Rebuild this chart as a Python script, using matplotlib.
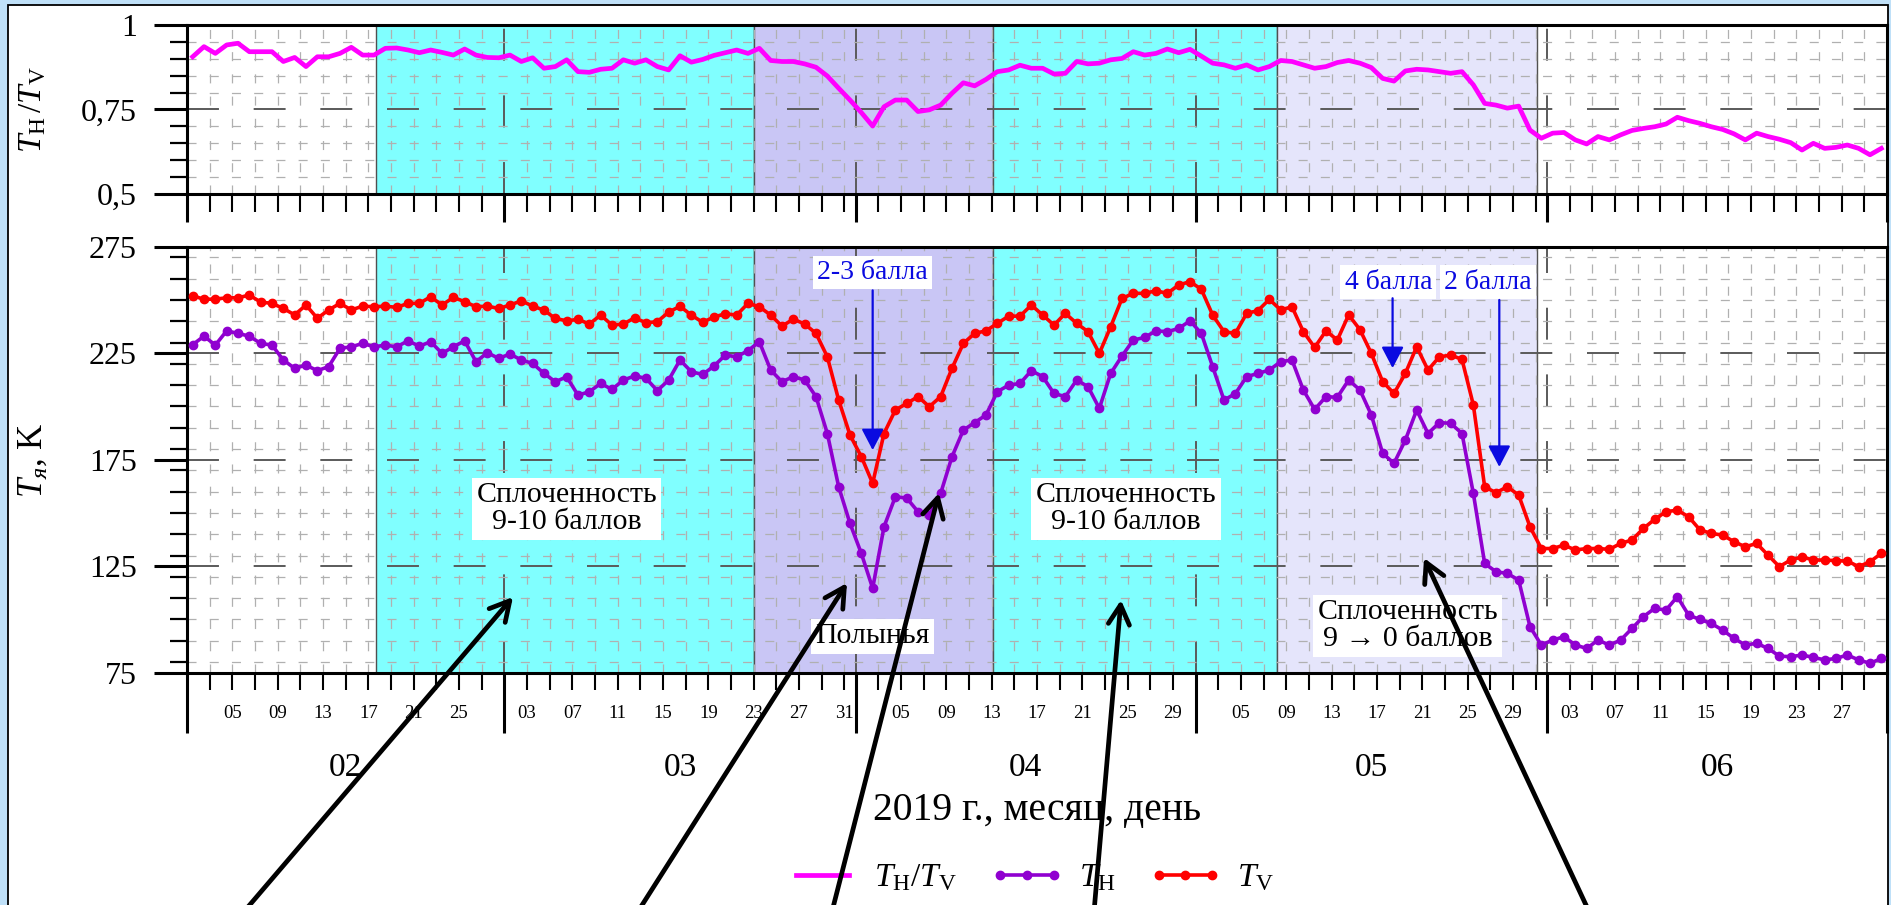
import calendar
import numpy as np
import pandas as pd
import matplotlib
matplotlib.use("Agg")
import matplotlib.pyplot as plt
import matplotlib.dates as mdates
import matplotlib.transforms as mtransforms
from matplotlib.patches import Rectangle, FancyArrowPatch
from matplotlib.ticker import FixedLocator, FixedFormatter, MultipleLocator, NullFormatter

plt.rcParams["font.family"] = ["Liberation Serif", "DejaVu Serif"]
plt.rcParams["mathtext.fontset"] = "custom"
plt.rcParams["mathtext.rm"] = "Liberation Serif"
plt.rcParams["mathtext.it"] = "Liberation Serif:italic"
plt.rcParams["lines.scale_dashes"] = False

# ---------------------------------------------------------------- data
dates = pd.date_range("2019-02-01 12:00", periods=150, freq="D")

t_v = [252, 250.3, 250.4, 251, 251, 252.3, 249, 248.4, 246, 243, 247.6, 241.4, 245.3, 248.4,
       245.3, 247.1, 246.8, 247.1, 246.5, 248.4, 248.4, 251.5, 247.6, 251.2, 249.2, 246.8, 247.1, 246,
       247.6, 249.6, 247.1, 245.2, 241.3, 240.2, 240.9, 238.7, 242.9, 238.2, 238.7, 241.6, 239.3,
       239.8, 244.3, 247, 242.9,
       239.5, 242, 243.5, 242.9, 248.4, 246.8, 242.9, 237.7, 241, 238.7, 234.3, 223.3, 203, 186.6,
       176.4, 163.9, 187.3, 198.3, 201.4, 204.6, 199.9, 204.6, 217.9, 229.6, 234.3, 235.5, 239,
       242.4, 242.4, 247.6, 242.9, 238.2, 243.7, 239, 235.1, 224.9, 237.4, 250.7, 253.1, 253.1,
       254.3, 253.1, 257, 258.6, 255, 242.9, 235.1, 234.3, 243.7, 245, 250.3, 245.3, 246.8,
       235.1, 227.7, 235.5, 231.2, 243, 236, 224.9, 211.6, 206.1, 215.5, 228, 217.1, 223.3, 224.1,
       222.1, 200.7, 162.3, 159.5, 162.3, 158.4, 143.5, 133.3, 133.3, 134.9, 132.6, 133.3, 133.3,
       132.9, 135.7, 137.3, 142.7, 147, 150.6, 151.3, 148.2, 142, 140.4, 139.6, 136.5, 134.1,
       135.7, 130.2, 124.8, 127.9, 129.4, 127.9, 127.9, 127.6, 127.4, 124.8, 127.1, 131]

t_h = [229, 233, 228.8, 235.5, 234.3, 233, 229.6, 228.8, 221.8, 217.9, 219.4, 216.8, 218.7, 227.3,
       228, 229.6, 228, 228.8, 228, 230.8, 228.3, 230.4, 224.9, 228, 230.8, 221, 225.2, 222.6,
       224.6, 221.8, 220.2, 215.5, 211.6, 213.9, 205.3, 206.9, 210.8, 208, 212.4, 214.3, 213.2,
       207.4, 212.4, 221.8, 216.3,
       215, 219, 224.1, 223.3, 226.2, 230.4, 217.1, 211.6, 214, 212.4, 204.6, 187.3, 162.3, 145.1,
       131, 114.6, 143.5, 157.6, 157, 150.6, 149, 159.2, 176.4, 188.9, 192.4, 196, 206.9, 210,
       210.8, 216.8, 214, 206.1, 204.6, 212.4, 209.3, 199.1, 215.5, 223.7, 231.2, 232.4, 235.5,
       235.1, 236.6, 240.2, 234.3, 218.7, 203, 206, 214, 215.5, 217.1, 221, 221.8,
       207.7, 198.6, 204.6, 204.3, 212.4, 207.7, 196, 178, 173.3, 184.2, 198.3, 187.3, 192.4,
       192.1, 187.3, 159.2, 126.3, 122.4, 121.6, 118.5, 96.6, 88, 90.3, 91.9, 88, 86.4, 90.3, 88,
       90.3, 95.8, 101.3, 105.2, 104.4, 110.7, 102, 100, 98.1, 95, 91.1, 88, 88.8, 86.4, 82.8,
       82.5, 83.3, 82.2, 81, 81.7, 83.3, 81, 79.4, 81.7]

ratio = [0.906, 0.936, 0.916, 0.941, 0.946, 0.921, 0.921, 0.921, 0.892, 0.904, 0.877, 0.906,
         0.906, 0.916, 0.934, 0.911, 0.911, 0.931, 0.932, 0.926, 0.918, 0.926, 0.919, 0.911,
         0.929, 0.911, 0.904, 0.903,
         0.911, 0.892, 0.903, 0.872, 0.877, 0.897, 0.862, 0.860, 0.869, 0.872, 0.897, 0.887,
         0.897, 0.877, 0.867, 0.909, 0.890,
         0.898, 0.910, 0.918, 0.926, 0.916, 0.931, 0.895, 0.892, 0.892, 0.885, 0.875, 0.849,
         0.813, 0.778, 0.741, 0.701, 0.758, 0.778, 0.778, 0.744, 0.749, 0.763, 0.798, 0.829,
         0.820, 0.839, 0.862, 0.867, 0.881, 0.872, 0.872, 0.855, 0.857, 0.892, 0.885, 0.887,
         0.897, 0.901, 0.921, 0.911, 0.916, 0.929, 0.918, 0.928, 0.908, 0.887, 0.882, 0.872,
         0.882, 0.867, 0.877, 0.895, 0.892,
         0.882, 0.872, 0.877, 0.889, 0.895, 0.887, 0.874, 0.842, 0.834, 0.864, 0.869, 0.867,
         0.862, 0.857, 0.862, 0.823, 0.768, 0.763, 0.754, 0.760, 0.689, 0.665, 0.680, 0.682,
         0.660, 0.648, 0.670, 0.660, 0.675, 0.688, 0.694, 0.699, 0.707, 0.727, 0.717, 0.709,
         0.699, 0.691, 0.678, 0.660, 0.680, 0.670, 0.662, 0.652, 0.630, 0.650, 0.635, 0.638,
         0.645, 0.635, 0.616, 0.635]

ratio_ticks = [0.5, 0.75, 1.0]
ratio_tick_labels = ["0,5", "0,75", "1"]
temp_ticks = [75, 125, 175, 225, 275]

# ice condition periods (start, end, colour)
ice_periods = [("2019-02-17 17:00", "2019-03-23 00:00", "#80ffff"),
               ("2019-03-23 00:00", "2019-04-13 02:00", "#c9c6f5"),
               ("2019-04-13 02:00", "2019-05-08 05:00", "#80ffff"),
               ("2019-05-08 05:00", "2019-05-31 02:00", "#e5e5fb")]

month_starts = ["2019-02-01", "2019-03-01", "2019-04-01", "2019-05-01", "2019-06-01", "2019-07-01"]
month_names = ["02", "03", "04", "05", "06"]
labelled_days = {2: [5, 9, 13, 17, 21, 25], 3: [3, 7, 11, 15, 19, 23, 27, 31],
                 4: [5, 9, 13, 17, 21, 25, 29], 5: [5, 9, 13, 17, 21, 25, 29],
                 6: [3, 7, 11, 15, 19, 23, 27]}

# text notes: (date, value, text, colour, size)
notes = [("2019-03-06 12:00", 152, "Сплоченность\n9-10 баллов", "black", 21.5),
         ("2019-04-24 21:00", 152, "Сплоченность\n9-10 баллов", "black", 21.5),
         ("2019-04-02 12:00", 92, "Полынья", "black", 21.5),
         ("2019-05-19 17:00", 97, "Сплоченность\n9 → 0 баллов", "black", 21.5),
         ("2019-04-02 12:00", 263, "2-3 балла", "#0a0ae0", 20),
         ("2019-05-18 00:00", 258.4, "4 балла", "#0a0ae0", 20),
         ("2019-05-26 19:00", 258.4, "2 балла", "#0a0ae0", 20)]

# blue pointers: (date, value at tail, value at head)
score_pointers = [("2019-04-02 12:00", 254.5, 179.5),
                  ("2019-05-18 09:00", 250.8, 218),
                  ("2019-05-27 19:00", 250, 171.6)]

# black pointers coming from below the chart (pixels: tail, head)
photo_pointers = [((224, 935), (513, 597)), ((623, 935), (847, 583)),
                  ((826, 935), (939, 493)), ((1092, 935), (1121, 600)),
                  ((1600, 935), (1424, 558))]

# ---------------------------------------------------------------- figure
W, H = 1891, 905
fig = plt.figure(figsize=(W / 100, H / 100), dpi=100, facecolor="#bfe0f8")
fig.add_artist(Rectangle((8 / W, -0.02), 1880 / W, 1.02 - 5 / H, transform=fig.transFigure,
                         facecolor="white", edgecolor="black", lw=1.3, zorder=-5))

ax1 = fig.add_axes([187 / W, 1 - 194 / H, 1700 / W, 169 / H])
ax2 = fig.add_axes([187 / W, 1 - 672.7 / H, 1700 / W, 426 / H])

x = mdates.date2num(dates.to_pydatetime())
dn = lambda s: mdates.date2num(pd.Timestamp(s).to_pydatetime())

major_x = [dn(s) for s in month_starts]
minor_x, minor_lbl = [], []
for m in range(2, 7):
    nd = calendar.monthrange(2019, m)[1]
    for d in range(3, nd + 1, 2):
        minor_x.append(dn(f"2019-{m:02d}-{d:02d}"))
        minor_lbl.append(f"{d:02d}" if d in labelled_days[m] else "")

major_dash = (0, (23, 25))
minor_dash = (0, (6.5, 9.5))

for ax in (ax1, ax2):
    ax.set_xlim(major_x[0], major_x[-1])
    for s, e, c in ice_periods:
        ax.axvspan(dn(s), dn(e), facecolor=c, edgecolor="#505050", lw=1.0, zorder=0.2)
    ax.set_axisbelow(True)
    ax.xaxis.set_major_locator(FixedLocator(major_x))
    ax.xaxis.set_minor_locator(FixedLocator(minor_x))
    ax.xaxis.set_major_formatter(NullFormatter())
    ax.grid(which="minor", color="#b0b0b0", lw=0.9, ls=minor_dash)
    ax.grid(which="major", color="#5a5a5a", lw=1.4, ls=major_dash)
    for sp in ax.spines.values():
        sp.set_linewidth(2.2)
    ax.tick_params(axis="y", which="major", direction="out", length=24, width=2.2,
                   labelsize=23, pad=12, right=False)
    ax.tick_params(axis="y", which="minor", direction="out", length=12, width=1.6, right=False)
    ax.tick_params(axis="x", which="minor", direction="out", width=1.5, top=False)
    ax.tick_params(axis="x", which="major", direction="out", width=2.2, top=False)

# top panel: ratio
ax1.plot(x, ratio, color="#ff00ff", lw=3.4, label=r"$T_{\rm H}/T_{\rm V}$", zorder=3)
ax1.set_ylim(0.5, 1.0)
ax1.yaxis.set_major_locator(FixedLocator(ratio_ticks))
ax1.yaxis.set_major_formatter(FixedFormatter(ratio_tick_labels))
ax1.yaxis.set_minor_locator(MultipleLocator(0.05))
ax1.xaxis.set_minor_formatter(NullFormatter())
ax1.tick_params(axis="x", which="minor", length=13)
ax1.tick_params(axis="x", which="major", length=20)
ax1.set_ylabel(r"$T_{\rm H}\,/T_{\rm V}$", fontsize=24, va="center")
ax1.yaxis.set_label_coords(-0.0906, 0.5)

# bottom panel: brightness temperatures
ax2.plot(x, t_h, color="#9000d0", lw=2.6, marker="o", ms=6, label=r"$T_{\rm H}$", zorder=3)
ax2.plot(x, t_v, color="#ff0000", lw=2.6, marker="o", ms=6, label=r"$T_{\rm V}$", zorder=3)
ax2.set_ylim(75, 275)
ax2.yaxis.set_major_locator(FixedLocator(temp_ticks))
ax2.yaxis.set_minor_locator(MultipleLocator(10))
ax2.xaxis.set_minor_formatter(FixedFormatter(minor_lbl))
ax2.tick_params(axis="x", which="minor", length=12, labelsize=13.5, pad=11)
ax2.tick_params(axis="x", which="major", length=43)
ax2.set_ylabel(r"$T_я$, K", fontsize=25, va="center")
ax2.yaxis.set_label_coords(-0.0906, 0.5)
ax2.set_xlabel("2019 г., месяц, день", fontsize=28.5)
ax2.xaxis.set_label_coords(0.5, -0.28)

blend = mtransforms.blended_transform_factory(ax2.transData, ax2.transAxes)
for i, name in enumerate(month_names):
    mid = (major_x[i] + major_x[i + 1]) / 2
    ax2.text(mid, -0.223, name, transform=blend, ha="center", va="center", fontsize=24)

for d, v, txt, col, fs in notes:
    ax2.text(dn(d), v, txt, ha="center", va="center", fontsize=fs, color=col,
             linespacing=1.05, zorder=5,
             bbox=dict(boxstyle="square,pad=0.15", fc="white", ec="none"))

for d, v0, v1 in score_pointers:
    ax2.annotate("", xy=(dn(d), v1), xytext=(dn(d), v0),
                 arrowprops=dict(arrowstyle="-|>,head_length=0.65,head_width=0.34",
                                 color="#0a0ae0", lw=1.6, mutation_scale=20,
                                 shrinkA=0, shrinkB=0), zorder=6)

for (tx, ty), (hx, hy) in photo_pointers:
    fig.add_artist(FancyArrowPatch((tx / W, 1 - ty / H), (hx / W, 1 - hy / H),
                                   transform=fig.transFigure,
                                   arrowstyle="->,head_length=0.7,head_width=0.38",
                                   mutation_scale=20, lw=3.4, color="black",
                                   shrinkA=0, shrinkB=0, zorder=10))

handles = ax1.get_lines()[:1] + ax2.get_lines()[:2]
fig.legend(handles, [h.get_label() for h in handles], loc="center",
           bbox_to_anchor=(1030 / W, 1 - 878 / H), ncol=3, frameon=False, fontsize=24,
           handlelength=2.2, handletextpad=0.45, columnspacing=1.0, numpoints=3)

fig.savefig("out.png", dpi=100, facecolor=fig.get_facecolor())
